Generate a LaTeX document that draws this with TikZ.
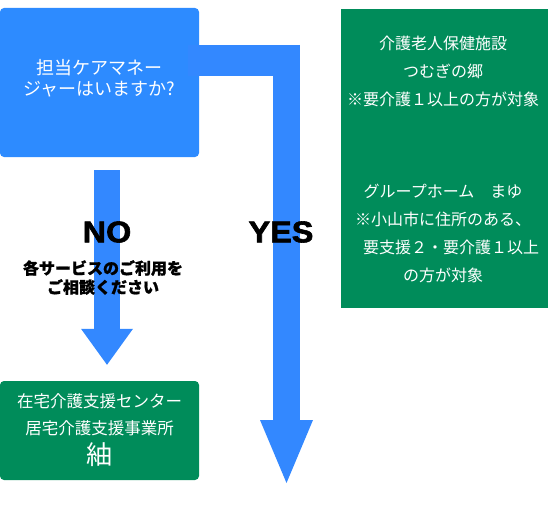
\documentclass[tikz,border=0pt]{standalone}
\usepackage{fontspec}
\setmainfont{Noto Sans CJK JP}[BoldFeatures={FakeBold=1}]
\newfontfamily\yesnofont{Liberation Sans}[BoldFeatures={FakeBold=2}]
\usetikzlibrary{arrows.meta, positioning}

\definecolor{askblue}{HTML}{2D8BFF}
\definecolor{arrowblue}{HTML}{3388FF}
\definecolor{boxgreen}{HTML}{008C5A}

\begin{document}
\begin{tikzpicture}[x=1pt, y=-1pt,
    askbox/.style={fill=askblue, rounded corners=4pt, text=white, align=center,
        font=\fontsize{18}{21}\selectfont},
    greenbox/.style={fill=boxgreen, text=white, align=center},
    factext/.style={text=white, align=center, font=\fontsize{16}{28}\selectfont},
    answer/.style={font=\yesnofont\bfseries\fontsize{30}{30}\selectfont, xscale=1.08},
    notice/.style={align=center, font=\bfseries\fontsize{16}{19}\selectfont},
    noarrow/.style={arrowblue, line width=26pt, shorten <=13pt, shorten >=16pt,
        -{Triangle[width=52pt, length=36pt, line width=0pt]}},
    yesbar/.style={arrowblue, line width=31pt},
    yesarrow/.style={arrowblue, line width=27pt,
        -{Triangle[width=53pt, length=63pt, line width=0pt]}}]
    \useasboundingbox (0,0) rectangle (548,511);
    % Question box
    \node[askbox, minimum width=199pt, minimum height=149pt] (ask) at (99.5,82.5)
        {担当ケアマネー\\ジャーはいますか?\\[-11pt]};
    % Answers on the right
    \node[greenbox, minimum width=207pt, minimum height=299pt] (facilities) at (444.5,158.5) {};
    \node[factext] (roken) at (443,71.5)
        {介護老人保健施設\\つむぎの郷\\※要介護１以上の方が対象};
    \node[factext] (grouphome) at (443,233.5)
        {グループホーム　まゆ\\※小山市に住所のある、\\　要支援２・要介護１以上\\の方が対象};
    % Office box
    \node[greenbox, rounded corners=4pt, minimum width=199pt, minimum height=99pt,
        font=\fontsize{16.5}{27}\selectfont] (office) at (99.5,430.5)
        {在宅介護支援センター\\居宅介護支援事業所\\[3pt]{\fontsize{26}{26}\selectfont 紬}};
    % YES connector
    \coordinate (yestop) at (286.5,45);
    \coordinate (yesend) at (286.5,483);
    \draw[yesbar] ([shift={(-11,52.5)}]ask.north east) -- ++(112,0);
    \draw[yesarrow] (yestop) -- (yesend);
    % NO connector
    \draw[noarrow] ([xshift=7.5pt]ask.south) -- ([xshift=7.5pt]office.north);
    % Labels
    \node[answer] (no) at (107,232) {NO};
    \node[answer] (yes) at (281,232) {YES};
    \node[notice] (consult) at (103,277.5) {各サービスのご利用を\\ご相談ください};
\end{tikzpicture}
\end{document}
